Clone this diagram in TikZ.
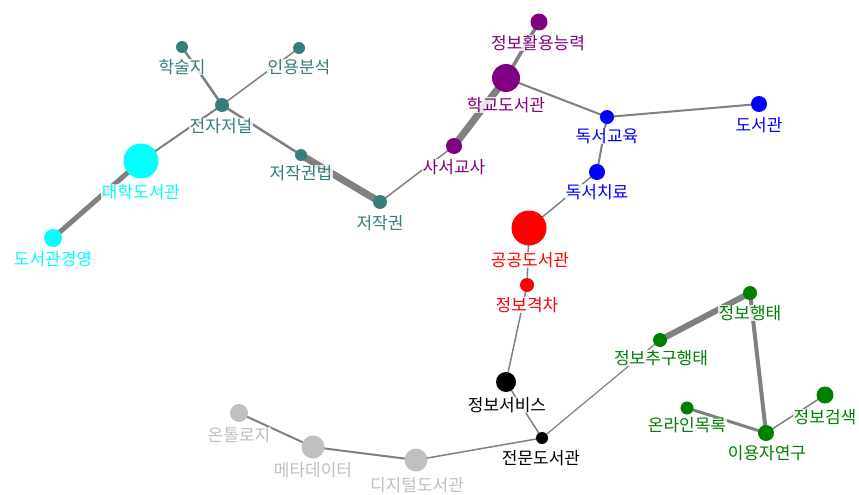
\documentclass[tikz,border=0pt]{standalone}
\usepackage{fontspec}
\newfontfamily\kr{Noto Sans CJK KR}
\definecolor{tealc}{RGB}{56,124,124}
\definecolor{cyanc}{RGB}{0,255,255}
\definecolor{purplec}{RGB}{128,0,128}
\definecolor{bluec}{RGB}{0,0,255}
\definecolor{redc}{RGB}{255,0,0}
\definecolor{greenc}{RGB}{0,128,0}
\definecolor{lgray}{RGB}{192,192,192}
\definecolor{edgec}{RGB}{128,128,128}
\pgfdeclarelayer{bg}
\pgfsetlayers{bg,main}
\tikzset{
  dot/.style={circle, fill=#1, draw=none, inner sep=0pt},
  lbl/.style={font=\kr\fontsize{17}{17}\selectfont, text=#1, inner xsep=1pt, inner ysep=0pt,
    fill=white, fill opacity=0.8, text opacity=1},
  edge/.style={draw=edgec, line width=#1},
}
\begin{document}
\begin{tikzpicture}[x=1pt,y=-1pt]
\useasboundingbox (0,0) rectangle (859,495);
% teal
\node[dot=tealc, minimum size=12pt] (hak) at (182,47) {};
\node[lbl=tealc] (hakL) at (182,67) {학술지};
\node[dot=tealc, minimum size=12pt] (inyong) at (299,48) {};
\node[lbl=tealc] (inyongL) at (299,67) {인용분석};
\node[dot=tealc, minimum size=14pt] (jeonja) at (222,105) {};
\node[lbl=tealc] (jeonjaL) at (221,126) {전자저널};
\node[dot=tealc, minimum size=12pt] (jeojakbeop) at (301,155) {};
\node[lbl=tealc] (jeojakbeopL) at (301,173) {저작권법};
\node[dot=tealc, minimum size=14pt] (jeojak) at (380,202) {};
\node[lbl=tealc] (jeojakL) at (380,223) {저작권};
% cyan
\node[dot=cyanc, minimum size=35pt] (daehak) at (141,161) {};
\node[lbl=cyanc] (daehakL) at (141,192) {대학도서관};
\node[dot=cyanc, minimum size=18pt] (gyeongyeong) at (53,238) {};
\node[lbl=cyanc] (gyeongyeongL) at (53,259) {도서관경영};
% purple
\node[dot=purplec, minimum size=16pt] (saseo) at (454,146) {};
\node[lbl=purplec] (saseoL) at (454,167) {사서교사};
\node[dot=purplec, minimum size=28pt] (hakgyo) at (506,78) {};
\node[lbl=purplec] (hakgyoL) at (506,105) {학교도서관};
\node[dot=purplec, minimum size=17pt] (hwalyong) at (539,22) {};
\node[lbl=purplec] (hwalyongL) at (538,43) {정보활용능력};
% blue
\node[dot=bluec, minimum size=14pt] (dokgyo) at (607,117) {};
\node[lbl=bluec] (dokgyoL) at (607,136) {독서교육};
\node[dot=bluec, minimum size=16pt] (doseogwan) at (759,104) {};
\node[lbl=bluec] (doseogwanL) at (759,125) {도서관};
\node[dot=bluec, minimum size=16pt] (dokchi) at (597,172) {};
\node[lbl=bluec] (dokchiL) at (597,192) {독서치료};
% red
\node[dot=redc, minimum size=35pt] (gonggong) at (529,228) {};
\node[lbl=redc] (gonggongL) at (530,260) {공공도서관};
\node[dot=redc, minimum size=14pt] (gyeokcha) at (527,285) {};
\node[lbl=redc] (gyeokchaL) at (527,305) {정보격차};
% black
\node[dot=black, minimum size=20pt] (service) at (506,382) {};
\node[lbl=black] (serviceL) at (507,405) {정보서비스};
\node[dot=black, minimum size=12pt] (jeonmun) at (542,438) {};
\node[lbl=black] (jeonmunL) at (541,458) {전문도서관};
% light gray
\node[dot=lgray, minimum size=23pt] (digital) at (416,460) {};
\node[lbl=lgray] (digitalL) at (417,485) {디지털도서관};
\node[dot=lgray, minimum size=23pt] (meta) at (313,447) {};
\node[lbl=lgray] (metaL) at (313,470) {메타데이터};
\node[dot=lgray, minimum size=18pt] (onto) at (239,413) {};
\node[lbl=lgray] (ontoL) at (239,435) {온톨로지};
% green
\node[dot=greenc, minimum size=14pt] (chugu) at (660,340) {};
\node[lbl=greenc] (chuguL) at (661,358) {정보추구행태};
\node[dot=greenc, minimum size=14pt] (haengtae) at (750,293) {};
\node[lbl=greenc] (haengtaeL) at (750,313) {정보행태};
\node[dot=greenc, minimum size=17pt] (geomsaek) at (825,395) {};
\node[lbl=greenc] (geomsaekL) at (825,417) {정보검색};
\node[dot=greenc, minimum size=13pt] (online) at (687,408) {};
\node[lbl=greenc] (onlineL) at (687,425) {온라인목록};
\node[dot=greenc, minimum size=16pt] (iyongja) at (766,433) {};
\node[lbl=greenc] (iyongjaL) at (767,453) {이용자연구};
% edges
\begin{pgfonlayer}{bg}
\draw[edge=2.5pt] (hak.center) -- (jeonja.center);
\draw[edge=1.5pt] (inyong.center) -- (jeonja.center);
\draw[edge=2pt] (jeonja.center) -- (daehak.center);
\draw[edge=5pt] (daehak.center) -- (gyeongyeong.center);
\draw[edge=2.5pt] (jeonja.center) -- (jeojakbeop.center);
\draw[edge=7pt] (jeojakbeop.center) -- (jeojak.center);
\draw[edge=1.5pt] (jeojak.center) -- (saseo.center);
\draw[edge=7pt] (saseo.center) -- (hakgyo.center);
\draw[edge=3.5pt] (hakgyo.center) -- (hwalyong.center);
\draw[edge=2pt] (hakgyo.center) -- (dokgyo.center);
\draw[edge=2pt] (dokgyo.center) -- (doseogwan.center);
\draw[edge=2pt] (dokgyo.center) -- (dokchi.center);
\draw[edge=1.5pt] (dokchi.center) -- (gonggong.center);
\draw[edge=1.5pt] (gonggong.center) -- (gyeokcha.center);
\draw[edge=1.5pt] (gyeokcha.center) -- (service.center);
\draw[edge=1.5pt] (service.center) -- (jeonmun.center);
\draw[edge=1.5pt] (jeonmun.center) -- (digital.center);
\draw[edge=2pt] (digital.center) -- (meta.center);
\draw[edge=2pt] (meta.center) -- (onto.center);
\draw[edge=1.2pt] (jeonmun.center) -- (chugu.center);
\draw[edge=6pt] (chugu.center) -- (haengtae.center);
\draw[edge=4pt] (haengtae.center) -- (iyongja.center);
\draw[edge=3pt] (iyongja.center) -- (online.center);
\draw[edge=1.5pt] (iyongja.center) -- (geomsaek.center);
\end{pgfonlayer}
\end{tikzpicture}
\end{document}
